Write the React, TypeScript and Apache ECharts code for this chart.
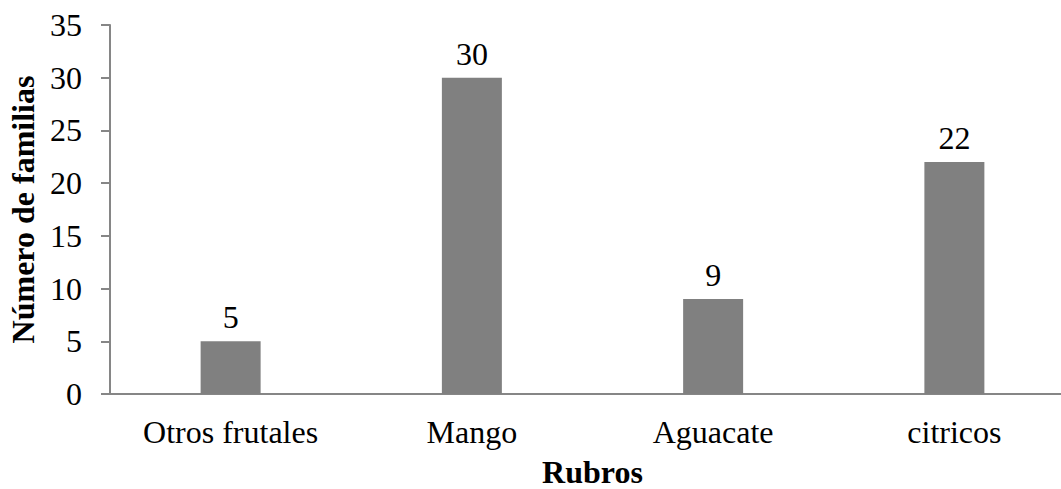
import React, { useEffect, useRef } from "react";
import * as echarts from "echarts";

const categories = ["Otros frutales", "Mango", "Aguacate", "citricos"];
const values = [5, 30, 9, 22];
const yTicks = { min: 0, max: 35, interval: 5 };
const xTitle = "Rubros";
const yTitle = "Número de familias";

const FONT = "Liberation Serif";
const FS = 32;

export default function App() {
  const ref = useRef<HTMLDivElement>(null);
  useEffect(() => {
    if (!ref.current) return;
    document.body.style.margin = "0";
    document.body.style.overflow = "hidden";
    const chart = echarts.init(ref.current, undefined, { renderer: "svg" });
    chart.setOption({
      animation: false,
      backgroundColor: "#ffffff",
      textStyle: { fontFamily: FONT, fontSize: FS },
      grid: { left: 110, top: 25, width: 965, height: 369, containLabel: false, outerBoundsMode: "none" },
      xAxis: {
        type: "category",
        data: categories,
        name: xTitle,
        nameLocation: "middle",
        nameGap: 62,
        nameTextStyle: { fontFamily: FONT, fontSize: FS, fontWeight: "bold", color: "#000" },
        axisLine: { lineStyle: { color: "#868686", width: 2 } },
        axisTick: { show: false },
        axisLabel: { fontFamily: FONT, fontSize: FS, color: "#000", margin: 22 },
      },
      yAxis: {
        type: "value",
        min: yTicks.min,
        max: yTicks.max,
        interval: yTicks.interval,
        name: yTitle,
        nameLocation: "middle",
        nameGap: 68,
        nameTextStyle: { fontFamily: FONT, fontSize: FS, fontWeight: "bold", color: "#000" },
        axisLine: { show: true, lineStyle: { color: "#868686", width: 2 } },
        axisTick: { show: true, length: 9, lineStyle: { color: "#868686", width: 2 } },
        axisLabel: { fontFamily: FONT, fontSize: FS, color: "#000", margin: 28 },
        splitLine: { show: false },
      },
      series: [
        {
          type: "bar",
          data: values,
          barWidth: 60,
          itemStyle: { color: "#808080" },
          label: {
            show: true,
            position: "top",
            distance: 8,
            fontFamily: FONT,
            fontSize: FS,
            color: "#000",
          },
        },
      ],
    });
    return () => chart.dispose();
  }, []);
  return (
    <div
      ref={ref}
      style={{ position: "fixed", left: 0, top: 0, width: 1061, height: 489, overflow: "hidden" }}
    />
  );
}
